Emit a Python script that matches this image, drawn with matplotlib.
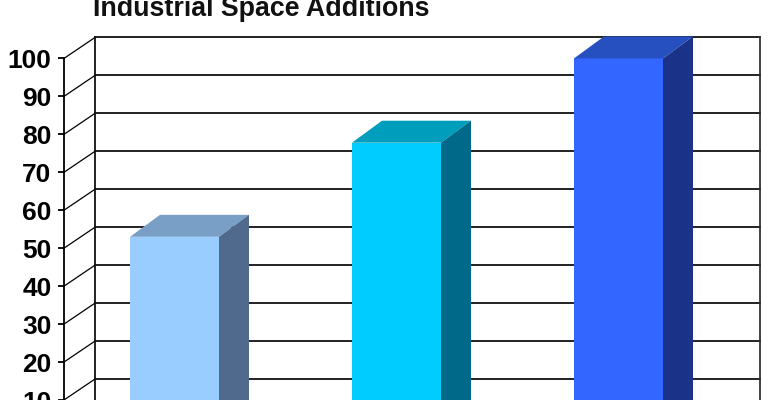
import matplotlib.pyplot as plt
from matplotlib.patches import Polygon

title = "Industrial Space Additions"
y_ticks = [10, 20, 30, 40, 50, 60, 70, 80, 90, 100]
bar_values = [53, 77.8, 100]
bar_left = [130, 352, 574]
front_colors = ["#99ccff", "#00ccff", "#3366ff"]
top_colors = ["#7a9fc6", "#009ebd", "#264fc0"]
side_colors = ["#4f6a8c", "#006888", "#1a3288"]

# axes in pixels across, values up
px = 3.8  # pixels per unit
y0_px = 438.5
bar_w = 89
dx = 30
dy = 22 / px
wall_dy = 21 / px
front_x = 64
back_x = 95
right_x = 760

plt.rcParams['font.family'] = ['Liberation Sans', 'DejaVu Sans']
fig = plt.figure(figsize=(7.7, 4), dpi=100, facecolor='white')
ax = fig.add_axes([0, 0, 1, 1])
ax.set_xlim(0, 770)
ax.set_ylim((y0_px - 400) / px, y0_px / px)

lw = 1.3
for v in y_ticks:
    ax.plot([front_x, back_x], [v, v + wall_dy], color='black', lw=0.9, zorder=1)
    ax.plot([back_x, right_x], [v + wall_dy, v + wall_dy], color='#111111', lw=lw, zorder=1)
ax.plot([back_x, back_x], [0, 100 + wall_dy], color='#111111', lw=lw, zorder=1)
ax.plot([right_x, right_x], [0, 100 + wall_dy], color='#333333', lw=lw, zorder=1)

for left, val, c_f, c_t, c_s in zip(bar_left, bar_values, front_colors, top_colors, side_colors):
    right = left + bar_w
    ax.add_patch(Polygon([(left, 0), (right, 0), (right, val), (left, val)], color=c_f, lw=0, zorder=3))
    ax.add_patch(Polygon([(left, val), (right, val), (right + dx, val + dy), (left + dx, val + dy)], color=c_t, lw=0, zorder=3))
    ax.add_patch(Polygon([(right, 0), (right + dx, 0), (right + dx, val + dy), (right, val)], color=c_s, lw=0, zorder=3))

for s in ['top', 'right', 'bottom']:
    ax.spines[s].set_visible(False)
ax.spines['left'].set_position(('data', front_x))
ax.spines['left'].set_bounds(0, 100)
ax.spines['left'].set_linewidth(lw)
ax.patch.set_visible(False)
ax.set_xticks([])
ax.set_yticks(y_ticks)
ax.tick_params(axis='y', length=4.5, width=lw, pad=4.5, labelsize=19)
for t in ax.get_yticklabels():
    t.set_fontweight('bold')

ax.text(93, (y0_px - 16.5) / px, title, fontsize=19.3, fontweight='bold', ha='left', va='baseline', color='#111111')

fig.savefig('out.png', dpi=100)
